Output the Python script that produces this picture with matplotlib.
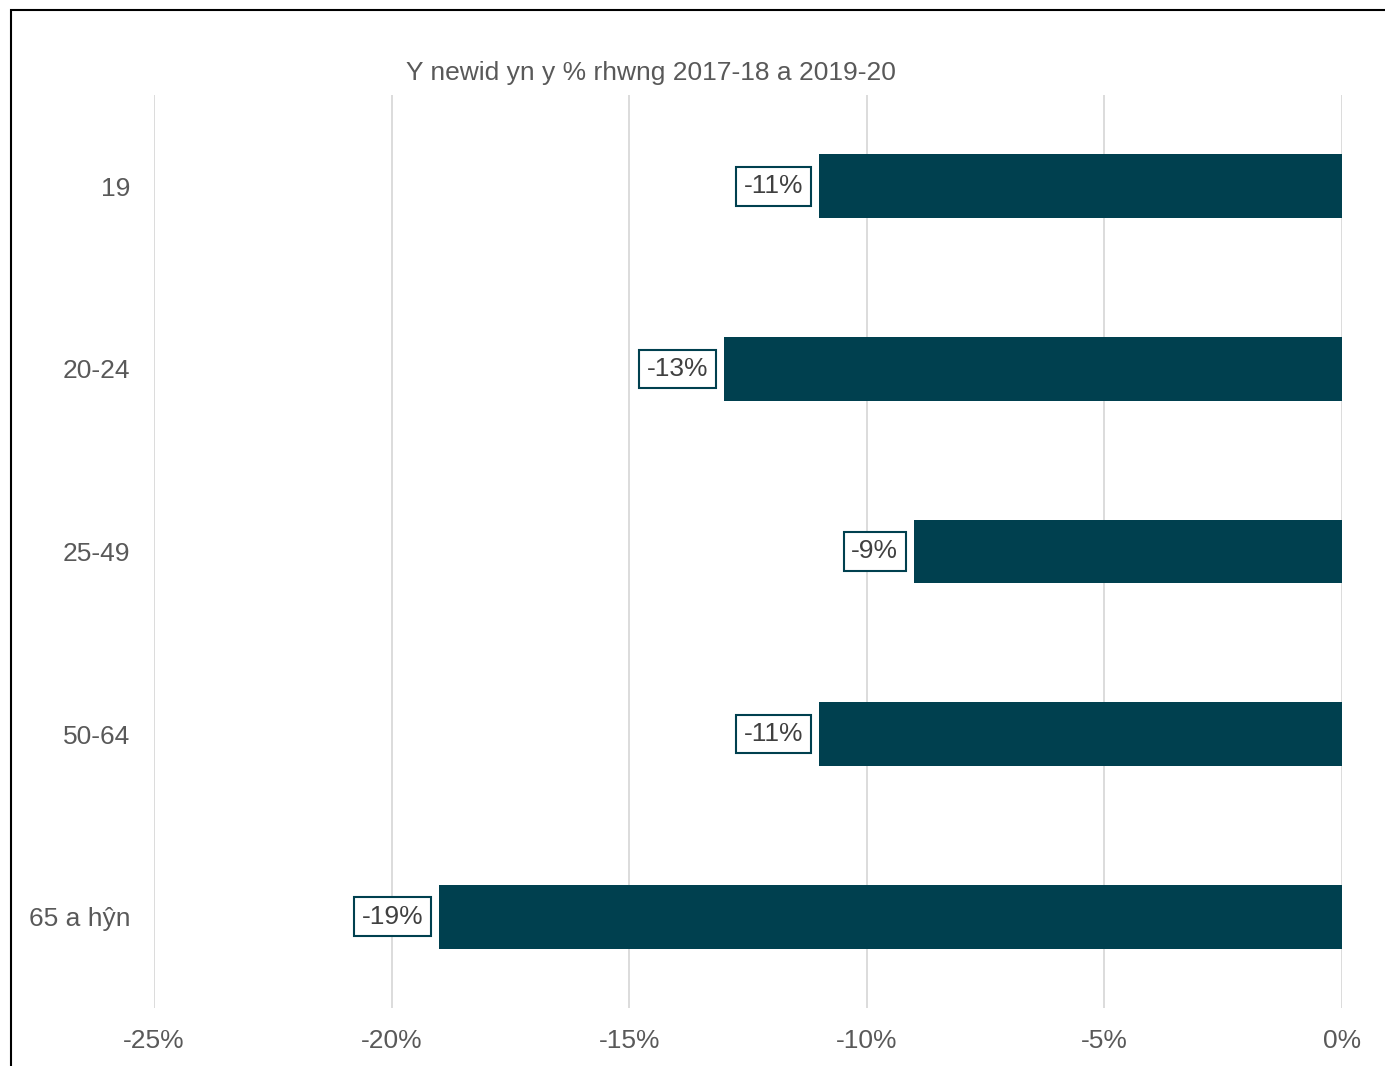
import matplotlib.pyplot as plt
from matplotlib.patches import Rectangle

plt.rcParams['font.family'] = ['Liberation Sans', 'DejaVu Sans']

categories = ['19', '20-24', '25-49', '50-64', '65 a hŷn']
values = [-11, -13, -9, -11, -19]
xticks = [-25, -20, -15, -10, -5, 0]
title = 'Y newid yn y % rhwng 2017-18 a 2019-20'

bar_col = '#00404f'
txt_col = '#595959'
fs = 19

fig = plt.figure(figsize=(13.85, 10.66), dpi=100)
ax = fig.add_axes([154/1385, 1-1008/1066, (1342-154)/1385, (1008-95)/1066])

ypos = list(range(len(categories)))
ax.barh(ypos, values, height=0.35, color=bar_col, zorder=3)
ax.set_ylim(len(categories)-0.5, -0.5)
ax.set_xlim(-25, 0)
ax.set_yticks(ypos)
ax.set_yticklabels(categories)
ax.set_xticks(xticks)
ax.set_xticklabels([f'{t}%' for t in xticks])
ax.tick_params(axis='both', length=0, labelsize=fs, colors=txt_col)
ax.tick_params(axis='y', pad=17)
ax.tick_params(axis='x', pad=15)
ax.xaxis.grid(True, color='#d9d9d9', linewidth=1.3, zorder=0)
for s in ax.spines.values():
    s.set_visible(False)

for y, v in zip(ypos, values):
    ax.annotate(f'{v}%', (v, y), xytext=(-16, 0), textcoords='offset pixels',
                ha='right', va='center', fontsize=fs, color='#404040', zorder=4,
                bbox=dict(boxstyle='square,pad=0.28', fc='white', ec=bar_col, lw=1.5))

fig.text(651/1385, 1-73/1066, title, ha='center', va='center', fontsize=fs, color=txt_col)

# outer frame, cropped on right and bottom
fig.patches.append(Rectangle((11/1385, -0.1), 1.2, 1-10/1066+0.1, transform=fig.transFigure,
                             fill=False, ec='black', lw=1.5))

fig.savefig('out.png', dpi=100)
